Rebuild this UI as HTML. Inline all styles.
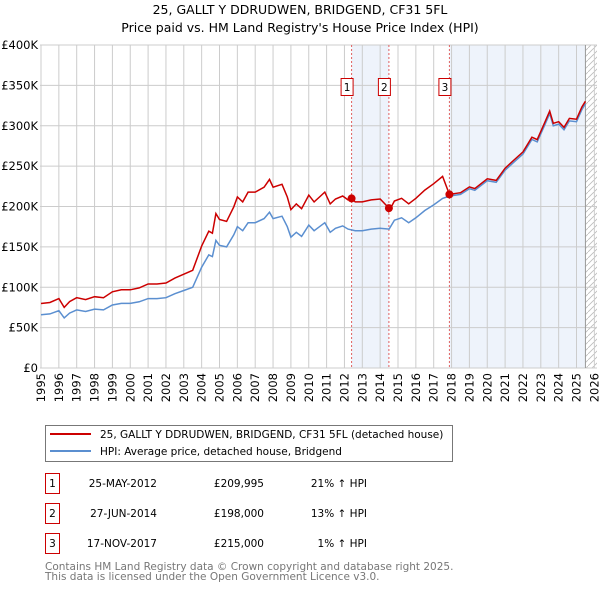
<!DOCTYPE html>
<html><head><meta charset="utf-8"><style>
body{margin:0;background:#fff;font-family:"Liberation Sans","DejaVu Sans",sans-serif;}
svg{display:block}
</style></head><body>
<svg width="600" height="590" xmlns="http://www.w3.org/2000/svg" font-family="DejaVu Sans, Liberation Sans, sans-serif">
<g id="chart"></g>
</svg>
<script>
const years=[1995,1996,1997,1998,1999,2000,2001,2002,2003,2004,2005,2006,2007,2008,2009,2010,2011,2012,2013,2014,2015,2016,2017,2018,2019,2020,2021,2022,2023,2024,2025,2026];
const yTicks=[0,50,100,150,200,250,300,350,400];
const hpiT=[1995.0,1995.5,1996.0,1996.3,1996.6,1997.0,1997.5,1998.0,1998.5,1999.0,1999.5,2000.0,2000.5,2001.0,2001.5,2002.0,2002.5,2003.0,2003.5,2004.0,2004.4,2004.6,2004.8,2005.0,2005.4,2005.8,2006.0,2006.3,2006.6,2007.0,2007.5,2007.8,2008.0,2008.5,2008.8,2009.0,2009.3,2009.6,2010.0,2010.3,2010.6,2010.9,2011.2,2011.5,2011.9,2012.2,2012.6,2013.0,2013.5,2014.0,2014.5,2014.8,2015.2,2015.6,2016.0,2016.5,2017.0,2017.5,2017.9,2018.5,2019.0,2019.3,2020.0,2020.5,2021.0,2021.5,2022.0,2022.5,2022.8,2023.2,2023.5,2023.7,2024.0,2024.3,2024.6,2025.0,2025.3,2025.5];
const hpiV=[66,67,71,62,68,72,70,73,72,78,80,80,82,86,86,87,92,96,100,125,140,138,158,152,150,165,175,170,180,180,185,193,185,188,175,162,168,163,177,170,175,180,168,173,176,172,170,170,172,173,172,183,186,180,186,195,202,210,213,215,222,220,232,230,245,255,265,283,280,300,315,300,302,295,306,305,320,327];
const saleT=[2012.4,2014.49,2017.88];
const saleV=[209.995,198,215];
const saleRatio=[1.21,1.13,1.01];
const saleLabels=["1","2","3"];
const NS="http://www.w3.org/2000/svg";
const g=document.getElementById('chart');
const X0=41,XW=17.85,Y0=368,YK=323/400;
const xs=t=>X0+(t-1995)*XW, ys=v=>Y0-v*YK;
function el(tag,attrs,parent){const e=document.createElementNS(NS,tag);for(const k in attrs)e.setAttribute(k,attrs[k]);(parent||g).appendChild(e);return e;}
function tx(x,y,s,attrs){const e=el('text',Object.assign({x:x,y:y},attrs||{}));e.textContent=s;return e;}
let t1=tx(300,14,"25, GALLT Y DDRUDWEN, BRIDGEND, CF31 5FL",{"text-anchor":"middle","font-size":"12.5"});


let t2=tx(300,32,"Price paid vs. HM Land Registry's House Price Index (HPI)",{"text-anchor":"middle","font-size":"12.5"});


let s1=el('rect',{x:xs(saleT[0]),y:45,width:xs(saleT[1])-xs(saleT[0]),height:323,fill:"#eef3fb"});


let s2=el('rect',{x:xs(saleT[2]),y:45,width:xs(2025.5)-xs(saleT[2]),height:323,fill:"#eef3fb"});


const defs=el('defs',{});
const pat=el('pattern',{id:'hatch',width:6,height:6,patternUnits:'userSpaceOnUse'},defs);
el('path',{d:'M0,6 L6,0',stroke:'#bbb','stroke-width':0.8},pat);
let hr=el('rect',{x:xs(2025.5),y:45,width:597-xs(2025.5),height:323,fill:'url(#hatch)'});


years.forEach(y=>{let l=el('line',{x1:xs(y),x2:xs(y),y1:45,y2:368,stroke:'#ccc','stroke-width':1});


let t=tx(xs(y)+4,373,String(y),{"font-size":"11.5",transform:`rotate(-90 ${xs(y)+4} 373)`,"text-anchor":"end"});

});
yTicks.forEach(v=>{let l=el('line',{x1:40,x2:597,y1:ys(v),y2:ys(v),stroke:'#ccc','stroke-width':1});


let t=tx(38,ys(v)+4,v===0?"£0":"£"+v+"K",{"font-size":"11.5","text-anchor":"end"});

});
let ax=el('line',{x1:xs(2025.5),x2:xs(2025.5),y1:45,y2:368,stroke:'#999','stroke-width':1});


saleT.forEach((t,i)=>{let l=el('line',{x1:xs(t),x2:xs(t),y1:45,y2:368,stroke:'#e06060','stroke-width':1,'stroke-dasharray':'2,2'});


let b=el('rect',{x:xs(t)-10.5,y:78.5,width:12,height:17,fill:'#fff',stroke:'#cc0000','stroke-width':1});


let bt=tx(xs(t)-4.5,91,saleLabels[i],{"font-size":"10.5","text-anchor":"middle"});

});
function ratioAt(t){if(t<saleT[1])return saleRatio[0];if(t<saleT[2])return saleRatio[1];return saleRatio[2];}
const hp=hpiT.map((t,i)=>xs(t).toFixed(1)+","+ys(hpiV[i]).toFixed(1)).join(" ");
let hl=el('polyline',{points:hp,fill:'none',stroke:'#5b8fd0','stroke-width':1.5});


const rp=[];
hpiT.forEach((t,i)=>{rp.push([t,hpiV[i]*ratioAt(t)]);});
saleT.forEach((st,k)=>{rp.push([st,saleV[k]]);});
rp.sort((a,b)=>a[0]-b[0]);
let rl=el('polyline',{points:rp.map(p=>xs(p[0]).toFixed(1)+","+ys(p[1]).toFixed(1)).join(" "),fill:'none',stroke:'#cc0000','stroke-width':1.5});


saleT.forEach((t,i)=>{let c=el('circle',{cx:xs(t),cy:ys(saleV[i]),r:4,fill:'#cc0000'});

});
let lb=el('rect',{x:45.5,y:425.5,width:407,height:36,fill:'#fff',stroke:'#777'});


el('line',{x1:50,x2:91,y1:434,y2:434,stroke:'#cc0000','stroke-width':2});
el('line',{x1:50,x2:91,y1:451,y2:451,stroke:'#5b8fd0','stroke-width':2});
let le1=tx(100,438,"25, GALLT Y DDRUDWEN, BRIDGEND, CF31 5FL (detached house)",{"font-size":"10.5"});


let le2=tx(100,455,"HPI: Average price, detached house, Bridgend",{"font-size":"10.5"});


const rows=[["25-MAY-2012","£209,995","21% ↑ HPI"],["27-JUN-2014","£198,000","13% ↑ HPI"],["17-NOV-2017","£215,000","1% ↑ HPI"]];
rows.forEach((r,i)=>{const y=483+i*30;
let b=el('rect',{x:45.5,y:y-9.5,width:14,height:20,fill:'none',stroke:'#cc0000'});


tx(52.5,y+4,String(i+1),{"font-size":"10.5","text-anchor":"middle"});
let d=tx(157,y+4,r[0],{"font-size":"10.5","text-anchor":"end"});


let p=tx(264,y+4,r[1],{"font-size":"10.5","text-anchor":"end"});


let h=tx(367,y+4,r[2],{"font-size":"10.5","text-anchor":"end"});

});
let f1=tx(45,570,"Contains HM Land Registry data © Crown copyright and database right 2025.",{"font-size":"10.5",fill:"#777"});


let f2=tx(45,580,"This data is licensed under the Open Government Licence v3.0.",{"font-size":"10.5",fill:"#777"});


</script>
</body></html>
